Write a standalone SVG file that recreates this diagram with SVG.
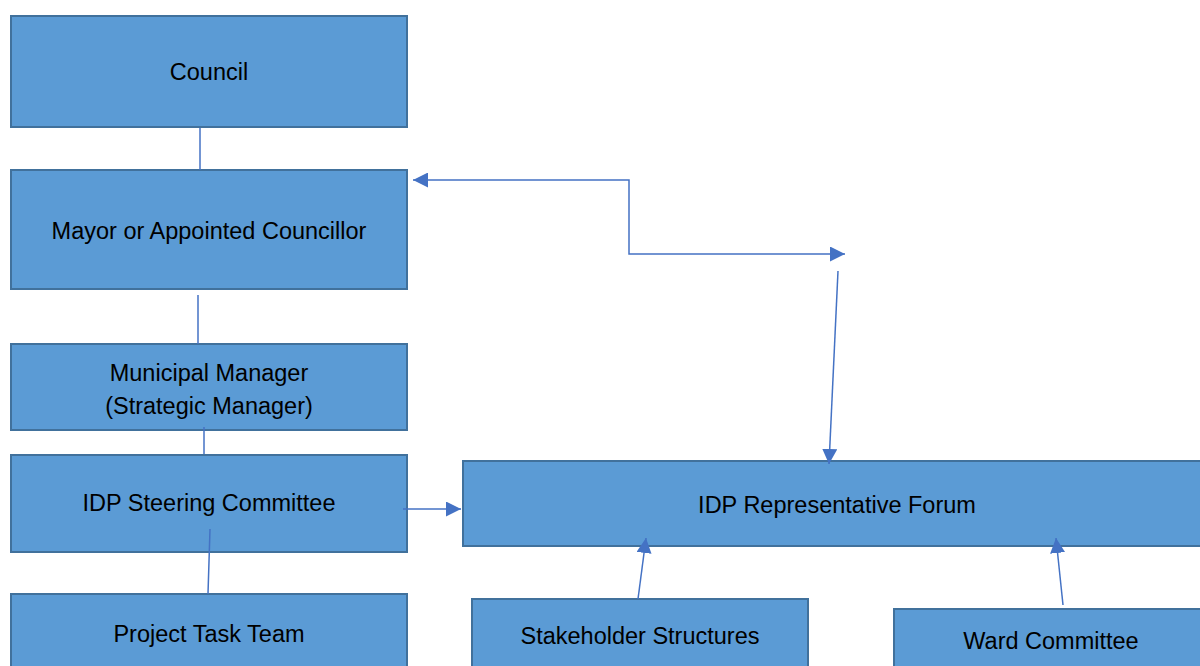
<svg xmlns="http://www.w3.org/2000/svg" width="1200" height="666" viewBox="0 0 1200 666">
<style>
.box{fill:#5B9BD5;stroke:#41719C;stroke-width:2}
.lbl{font-family:"Liberation Sans",Arial,sans-serif;font-size:23.5px;fill:#000;text-anchor:middle;dominant-baseline:central}
.ln{stroke:#4472C4;stroke-width:1.5;fill:none}
.ar{marker-end:url(#ah)}
</style>
<defs>
<marker id="ah" viewBox="0 0 10 10" refX="10" refY="5" markerWidth="15" markerHeight="15" markerUnits="userSpaceOnUse" orient="auto">
<path d="M0,0 L10,5 L0,10 z" fill="#4472C4"/>
</marker>
<marker id="ahs" viewBox="0 0 10 10" refX="0" refY="5" markerWidth="15" markerHeight="15" markerUnits="userSpaceOnUse" orient="auto">
<path d="M10,0 L0,5 L10,10 z" fill="#4472C4"/>
</marker>
</defs>
<g id="council"><rect class="box" x="11" y="16" width="396" height="111"/><text class="lbl" x="209" y="72">Council</text></g>
<g id="mayor"><rect class="box" x="11" y="170" width="396" height="119"/><text class="lbl" x="209" y="231">Mayor or Appointed Councillor</text></g>
<g id="mm"><rect class="box" x="11" y="344" width="396" height="86"/><text class="lbl" x="209" y="373">Municipal Manager</text><text class="lbl" x="209" y="406">(Strategic Manager)</text></g>
<g id="steering"><rect class="box" x="11" y="455" width="396" height="97"/><text class="lbl" x="209" y="503">IDP Steering Committee</text></g>
<g id="ptt"><rect class="box" x="11" y="594" width="396" height="90"/><text class="lbl" x="209" y="634">Project Task Team</text></g>
<g id="forum"><rect class="box" x="463" y="461" width="750" height="85"/><text class="lbl" x="837" y="505">IDP Representative Forum</text></g>
<g id="stakeholder"><rect class="box" x="472" y="599" width="336" height="85"/><text class="lbl" x="640" y="636">Stakeholder Structures</text></g>
<g id="ward"><rect class="box" x="894" y="609" width="320" height="75"/><text class="lbl" x="1051" y="641">Ward Committee</text></g>
<g id="connectors">
<line class="ln" x1="200" y1="128" x2="200" y2="170"/>
<line class="ln" x1="198" y1="295" x2="198" y2="344"/>
<line class="ln" x1="204" y1="427" x2="204" y2="454"/>
<line class="ln" x1="210" y1="529" x2="208" y2="594"/>
<polyline class="ln" points="845,254 629,254 629,180 413,180" style="marker-end:url(#ah);marker-start:url(#ahs)"/>
<line class="ln ar" x1="838" y1="271" x2="829" y2="464"/>
<line class="ln ar" x1="403" y1="509" x2="461" y2="509"/>
<line class="ln ar" x1="638" y1="599" x2="646" y2="538"/>
<line class="ln ar" x1="1063" y1="605" x2="1056" y2="538"/>
</g>
</svg>
